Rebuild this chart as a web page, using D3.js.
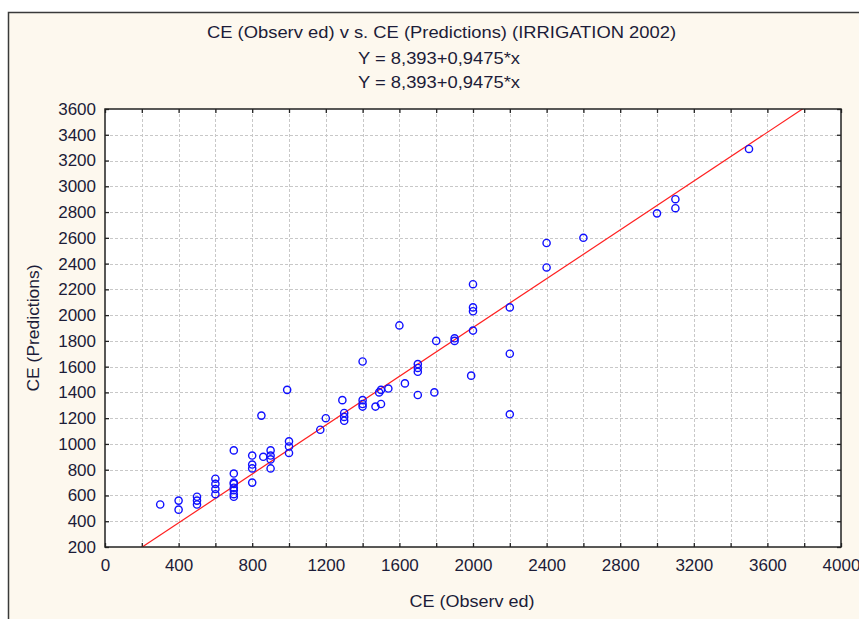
<!DOCTYPE html>
<html>
<head>
<meta charset="utf-8">
<script src="https://cdn.jsdelivr.net/npm/d3@7"></script>
<style>
  html, body { margin: 0; padding: 0; background: #ffffff; }
  svg { display: block; }
  text { font-family: "Liberation Sans", Arial, sans-serif; fill: #1c1c38; }
</style>
</head>
<body>
<svg id="chart" width="859" height="619"></svg>
<script>
// ---- data ----
const titleText = "CE (Observ ed) v s. CE (Predictions) (IRRIGATION 2002)";
const equationLines = ["Y  = 8,393+0,9475*x", "Y  = 8,393+0,9475*x"];
const xAxisTitle = "CE (Observ ed)";
const yAxisTitle = "CE (Predictions)";
const intercept = 8.393;
const slope = 0.9475;
const xTicks = [0,200,400,600,800,1000,1200,1400,1600,1800,2000,2200,2400,2600,2800,3000,3200,3400,3600,3800,4000];
const yTicks = [200,400,600,800,1000,1200,1400,1600,1800,2000,2200,2400,2600,2800,3000,3200,3400,3600];
const observed = [300,400,400,500,500,500,600,600,600,600,
  700,700,700,700,700,700,700,700,800,800,800,800,850,860,
  900,900,900,900,990,1000,1000,1000,1170,1200,1290,1300,1300,1300,
  1400,1400,1400,1400,1470,1500,1490,1500,1540,1600,1630,
  1700,1700,1700,1700,1790,1800,1900,1900,1990,2000,2000,2000,2000,
  2200,2200,2200,2400,2400,2600,3000,3100,3100,3500];
const predicted = [530,560,490,590,560,530,730,690,650,610,
  950,770,700,690,660,640,610,590,910,840,810,700,1220,900,
  950,910,880,810,1420,1020,980,930,1110,1200,1340,1240,1210,1180,
  1640,1340,1310,1290,1290,1310,1400,1420,1430,1920,1470,
  1620,1590,1560,1380,1400,1800,1820,1800,1530,2240,2060,2030,1880,
  2060,1700,1230,2560,2370,2600,2790,2900,2830,3290];

// ---- layout ----
const svg = d3.select("#chart");
const W = 859, H = 619;
const plot = {left: 105, right: 841, top: 109, bottom: 547};

// panel background + border
svg.append("rect").attr("x", 8).attr("y", 12).attr("width", W - 8).attr("height", H - 12)
  .attr("fill", "#fdf8ee");
svg.append("path").attr("d", `M8.5,${H} L8.5,12.5 L${W},12.5`)
  .attr("fill", "none").attr("stroke", "#3a3a3a").attr("stroke-width", 1.5);

const x = d3.scaleLinear().domain([0, 4000]).range([plot.left, plot.right]);
const y = d3.scaleLinear().domain([200, 3600]).range([plot.bottom, plot.top]);

// plot area
svg.append("rect").attr("x", plot.left).attr("y", plot.top)
  .attr("width", plot.right - plot.left).attr("height", plot.bottom - plot.top)
  .attr("fill", "#ffffff");

// grid
const grid = svg.append("g").attr("stroke", "#c8c8c8").attr("stroke-width", 1)
  .attr("stroke-dasharray", "3,2");
grid.selectAll("line.v").data(xTicks.filter(d => d > 0 && d < 4000)).join("line")
  .attr("x1", d => Math.round(x(d)) + 0.5).attr("x2", d => Math.round(x(d)) + 0.5)
  .attr("y1", plot.top).attr("y2", plot.bottom);
grid.selectAll("line.h").data(yTicks.filter(d => d > 200 && d < 3600)).join("line")
  .attr("y1", d => Math.round(y(d)) + 0.5).attr("y2", d => Math.round(y(d)) + 0.5)
  .attr("x1", plot.left).attr("x2", plot.right);

// axes (inward ticks)
const fontSize = "17px";
const axB = svg.append("g").attr("transform", `translate(0,${plot.bottom})`)
  .call(d3.axisBottom(x).tickValues(xTicks).tickSize(-4).tickPadding(12)
    .tickFormat(d => d % 400 === 0 ? d : ""));
const axT = svg.append("g").attr("transform", `translate(0,${plot.top})`)
  .call(d3.axisTop(x).tickValues(xTicks).tickSize(-4).tickFormat(""));
const axL = svg.append("g").attr("transform", `translate(${plot.left},0)`)
  .call(d3.axisLeft(y).tickValues(yTicks).tickSize(-4).tickPadding(9).tickFormat(d3.format("d")));
const axR = svg.append("g").attr("transform", `translate(${plot.right},0)`)
  .call(d3.axisRight(y).tickValues(yTicks).tickSize(-4).tickFormat(""));
[axB, axT, axL, axR].forEach(g => {
  g.select(".domain").remove();
  g.selectAll(".tick line").attr("stroke", "#222").attr("stroke-width", 1.3);
  g.selectAll(".tick text").attr("font-size", fontSize).attr("fill", "#1c1c38")
    .attr("font-family", "Liberation Sans, Arial, sans-serif");
});

// regression line, clipped to plot
svg.append("clipPath").attr("id", "clip").append("rect")
  .attr("x", plot.left).attr("y", plot.top)
  .attr("width", plot.right - plot.left).attr("height", plot.bottom - plot.top);
const lineX = [0, 4000];
svg.append("path").attr("clip-path", "url(#clip)")
  .attr("d", d3.line().x(d => x(d)).y(d => y(intercept + slope * d))(lineX))
  .attr("fill", "none").attr("stroke", "#ff2020").attr("stroke-width", 1.2);

// points
svg.append("g").selectAll("circle").data(observed.map((o, i) => [o, predicted[i]])).join("circle")
  .attr("cx", d => x(d[0])).attr("cy", d => y(d[1])).attr("r", 3.6)
  .attr("fill", "none").attr("stroke", "#1010ff").attr("stroke-width", 1.4);

// frame
svg.append("rect").attr("x", plot.left).attr("y", plot.top)
  .attr("width", plot.right - plot.left).attr("height", plot.bottom - plot.top)
  .attr("fill", "none").attr("stroke", "#222").attr("stroke-width", 1.5);

// titles
function label(t, cx, cy, len, size, rot) {
  const el = svg.append("text").attr("text-anchor", "middle")
    .attr("font-size", size).attr("textLength", len).attr("lengthAdjust", "spacingAndGlyphs")
    .text(t);
  el.attr("transform", rot ? `translate(${cx},${cy}) rotate(-90)` : `translate(${cx},${cy})`);
  return el;
}
label(titleText, 441.5, 38, 469, "16px");
equationLines.forEach((t, i) => label(t, 439, 64 + i * 24, 162, "16px"));
label(xAxisTitle, 472, 607, 125, "16px");
label(yAxisTitle, 39, 328, 127, "16px", true);
</script>
</body>
</html>
